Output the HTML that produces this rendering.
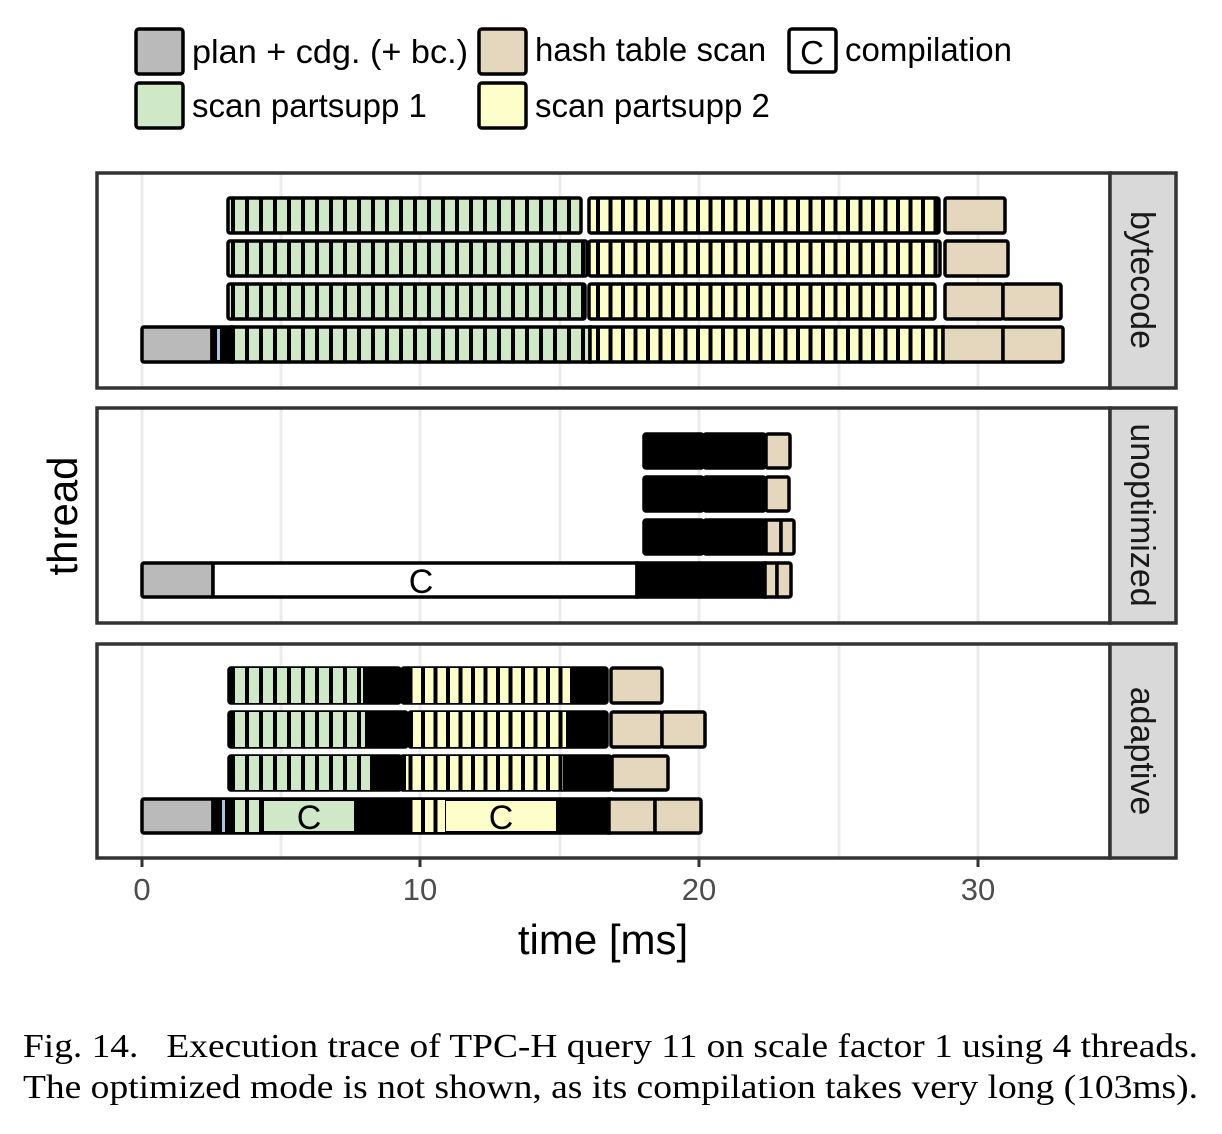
<!DOCTYPE html>
<html><head><meta charset="utf-8"><style>html,body{margin:0;padding:0;background:#fff}svg{display:block}</style></head>
<body>
<svg width="1222" height="1134" viewBox="0 0 1222 1134" xmlns="http://www.w3.org/2000/svg" font-family="Liberation Sans, sans-serif">
<defs>
<pattern id="g" patternUnits="userSpaceOnUse" width="14" height="40" x="231" y="0"><rect width="14" height="40" fill="#cfe8c8"/><rect width="4" height="40" fill="#000"/></pattern>
<pattern id="y" patternUnits="userSpaceOnUse" width="12.5" height="40" x="596" y="0"><rect width="12.5" height="40" fill="#fefecb"/><rect width="4" height="40" fill="#000"/></pattern>
</defs>
<!-- legend -->
<g stroke="#000" stroke-width="3.5">
<rect x="136" y="29" width="47" height="45" rx="3" fill="#bababa"/>
<rect x="136" y="83" width="47" height="45" rx="3" fill="#cfe8c8"/>
<rect x="479" y="29" width="47" height="45" rx="3" fill="#e5d7bd"/>
<rect x="479" y="83" width="47" height="45" rx="3" fill="#fefecb"/>
<rect x="789" y="29" width="47" height="43" rx="3" fill="#fff"/>
</g>
<g font-size="33" fill="#000">
<text x="192" y="63" textLength="276" lengthAdjust="spacingAndGlyphs">plan + cdg. (+ bc.)</text>
<text x="192" y="117">scan partsupp 1</text>
<text x="535" y="61">hash table scan</text>
<text x="535" y="117">scan partsupp 2</text>
<text x="812" y="64" text-anchor="middle">C</text>
<text x="845" y="61">compilation</text>
</g>
<!-- panels -->
<g>
<g stroke="#ebebeb" stroke-width="3">
<path d="M142 173V388M281 173V388M420 173V388M560 173V388M699 173V388M839 173V388M978 173V388"/>
<path d="M142 408V623M281 408V623M420 408V623M560 408V623M699 408V623M839 408V623M978 408V623"/>
<path d="M142 644V858M281 644V858M420 644V858M560 644V858M699 644V858M839 644V858M978 644V858"/>
</g>
</g>
<!-- bars -->
<g stroke="#000" stroke-width="3.5">
<rect x="228" y="198" width="353" height="35" rx="2" fill="url(#g)"/>
<rect x="589" y="198" width="350" height="35" rx="2" fill="url(#y)"/>
<rect x="945" y="198" width="60" height="35" rx="2" fill="#e5d7bd"/>
<rect x="228" y="241" width="359" height="35" rx="2" fill="url(#g)"/>
<rect x="589" y="241" width="351" height="35" rx="2" fill="url(#y)"/>
<rect x="945" y="241" width="63" height="35" rx="2" fill="#e5d7bd"/>
<rect x="228" y="284" width="357" height="35" rx="2" fill="url(#g)"/>
<rect x="589" y="284" width="346" height="35" rx="2" fill="url(#y)"/>
<rect x="945" y="284" width="58" height="35" rx="2" fill="#e5d7bd"/>
<rect x="1003" y="284" width="58" height="35" rx="2" fill="#e5d7bd"/>
<rect x="142" y="327" width="70" height="35" rx="2" fill="#bababa"/>
<rect x="212" y="327" width="20" height="35" fill="#000"/>
<rect x="232" y="327" width="358" height="35" fill="url(#g)"/>
<rect x="590" y="327" width="353" height="35" fill="url(#y)"/>
<rect x="943" y="327" width="60" height="35" fill="#e5d7bd"/>
<rect x="1003" y="327" width="60" height="35" rx="2" fill="#e5d7bd"/>
<rect x="644" y="434" width="59" height="34" rx="2" fill="#000"/>
<rect x="704" y="434" width="61" height="34" rx="2" fill="#000"/>
<rect x="766" y="434" width="24" height="34" rx="2" fill="#e5d7bd"/>
<rect x="644" y="477" width="59" height="34" rx="2" fill="#000"/>
<rect x="704" y="477" width="61" height="34" rx="2" fill="#000"/>
<rect x="766" y="477" width="23" height="34" rx="2" fill="#e5d7bd"/>
<rect x="644" y="520" width="59" height="34" rx="2" fill="#000"/>
<rect x="704" y="520" width="61" height="34" rx="2" fill="#000"/>
<rect x="766" y="520" width="15" height="34" fill="#e5d7bd"/>
<rect x="781" y="520" width="13" height="34" rx="2" fill="#e5d7bd"/>
<rect x="142" y="563" width="71" height="34" rx="2" fill="#bababa"/>
<rect x="213" y="563" width="424" height="34" fill="#fff"/>
<rect x="637" y="563" width="128" height="34" fill="#000"/>
<rect x="765" y="563" width="12" height="34" fill="#e5d7bd"/>
<rect x="777" y="563" width="14" height="34" rx="2" fill="#e5d7bd"/>
<rect x="229" y="668" width="171" height="35" rx="2" fill="#000"/>
<rect x="233" y="668" width="130" height="35" fill="url(#g)" stroke="none"/>
<rect x="402" y="668" width="205" height="35" rx="2" fill="#000"/>
<rect x="410" y="668" width="160" height="35" fill="url(#y)" stroke="none"/>
<rect x="611" y="668" width="51" height="35" rx="2" fill="#e5d7bd"/>
<rect x="229" y="712" width="178" height="35" rx="2" fill="#000"/>
<rect x="233" y="712" width="132" height="35" fill="url(#g)" stroke="none"/>
<rect x="409" y="712" width="198" height="35" rx="2" fill="#000"/>
<rect x="413" y="712" width="153" height="35" fill="url(#y)" stroke="none"/>
<rect x="611" y="712" width="51" height="35" rx="2" fill="#e5d7bd"/>
<rect x="662" y="712" width="43" height="35" rx="2" fill="#e5d7bd"/>
<rect x="229" y="756" width="172" height="34" rx="2" fill="#000"/>
<rect x="233" y="756" width="137" height="34" fill="url(#g)" stroke="none"/>
<rect x="401" y="756" width="210" height="34" rx="2" fill="#000"/>
<rect x="406" y="756" width="157" height="34" fill="url(#y)" stroke="none"/>
<rect x="612" y="756" width="56" height="34" rx="2" fill="#e5d7bd"/>
<rect x="142" y="799" width="71" height="34" rx="2" fill="#bababa"/>
<rect x="213" y="799" width="396" height="34" fill="#000"/>
<rect x="222" y="800" width="3" height="32" fill="#a9c4e0" stroke="none"/>
<rect x="232" y="800" width="30" height="32" fill="url(#g)" stroke="none"/>
<rect x="264" y="801" width="90" height="30" fill="#cfe8c8" stroke="none"/>
<rect x="410" y="800" width="35" height="32" fill="url(#y)" stroke="none"/>
<rect x="446" y="801" width="110" height="30" fill="#fefecb" stroke="none"/>
<rect x="609" y="799" width="46" height="34" fill="#e5d7bd"/>
<rect x="655" y="799" width="46" height="34" rx="2" fill="#e5d7bd"/>
</g>
<rect x="217" y="329" width="3" height="31" fill="#a9c4e0"/>
<g font-size="34" fill="#000" text-anchor="middle">
<text x="421" y="593">C</text>
<text x="309" y="829">C</text>
<text x="501" y="829">C</text>
</g>
<g stroke="#333" stroke-width="3.5" fill="none">
<rect x="97" y="173" width="1013" height="215"/>
<rect x="97" y="408" width="1013" height="215"/>
<rect x="97" y="644" width="1013" height="214"/>
</g>
<g stroke="#333" stroke-width="3.5" fill="#d9d9d9">
<rect x="1110" y="173" width="66" height="215"/>
<rect x="1110" y="408" width="66" height="215"/>
<rect x="1110" y="644" width="66" height="214"/>
</g>
<g font-size="34" fill="#1a1a1a" text-anchor="middle">
<text transform="translate(1131 280) rotate(90)">bytecode</text>
<text transform="translate(1131 515) rotate(90)">unoptimized</text>
<text transform="translate(1131 751) rotate(90)">adaptive</text>
</g>
<g stroke="#333" stroke-width="3">
<path d="M142 858v9M420 858v9M699 858v9M978 858v9"/>
</g>
<g font-size="31" fill="#4d4d4d" text-anchor="middle">
<text x="142" y="900">0</text>
<text x="420" y="900">10</text>
<text x="699" y="900">20</text>
<text x="978" y="900">30</text>
</g>
<text x="603" y="954" font-size="42" text-anchor="middle" fill="#000">time [ms]</text>
<text transform="translate(77 516) rotate(-90)" font-size="42" text-anchor="middle" fill="#000">thread</text>
<g font-family="Liberation Serif, serif" font-size="34" fill="#000">
<text x="23" y="1057" textLength="1175" lengthAdjust="spacingAndGlyphs" xml:space="preserve">Fig. 14.   Execution trace of TPC-H query 11 on scale factor 1 using 4 threads.</text>
<text x="23" y="1098" textLength="1175" lengthAdjust="spacingAndGlyphs">The optimized mode is not shown, as its compilation takes very long (103ms).</text>
</g>
</svg>
</body></html>
